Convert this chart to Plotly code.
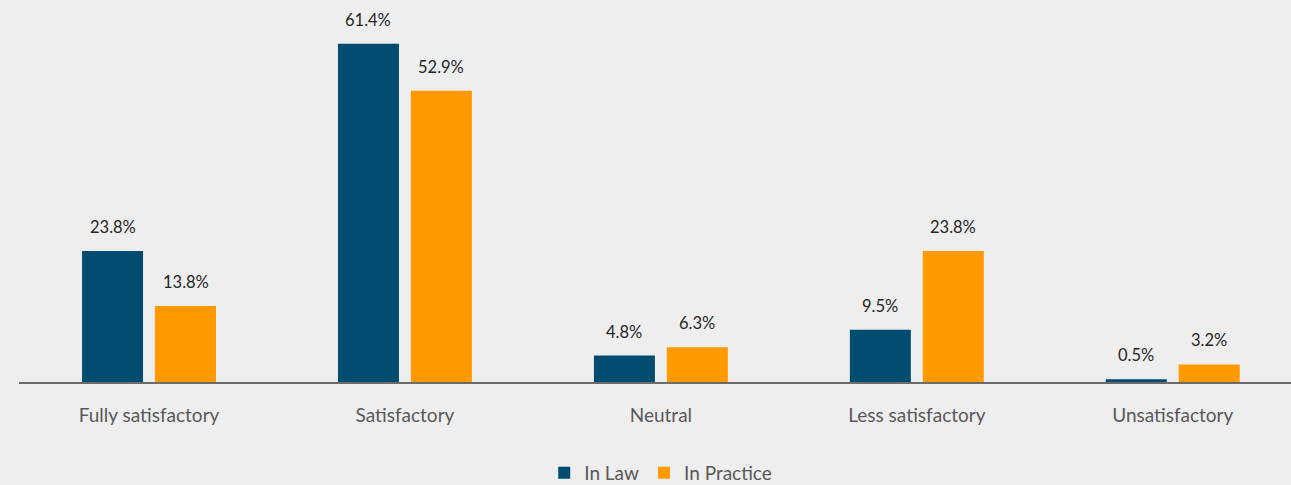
import plotly.graph_objects as go

categories = ["Fully satisfactory", "Satisfactory", "Neutral", "Less satisfactory", "Unsatisfactory"]
in_law = [23.8, 61.4, 4.8, 9.5, 0.5]
in_practice = [13.8, 52.9, 6.3, 23.8, 3.2]

BLUE = "#004d71"
ORANGE = "#ff9900"
FONT = "Lato, 'Open Sans', sans-serif"

fig = go.Figure()
fig.add_trace(go.Bar(name="In Law", x=categories, y=in_law, marker_color=BLUE,
                     marker_line_width=0))
fig.add_trace(go.Bar(name="In Practice", x=categories, y=in_practice, marker_color=ORANGE,
                     marker_line_width=0))

# value labels floating above each bar
annotations = []
for vals, shift in ((in_law, -36.5), (in_practice, 36.5)):
    for c, v in zip(categories, vals):
        annotations.append(dict(x=c, y=v, xref="x", yref="y", text=f"{v:.1f}%",
                                showarrow=False, xshift=shift, yshift=24,
                                font=dict(family=FONT, size=16.5, color="#262626")))

fig.update_layout(
    width=1291, height=485,
    paper_bgcolor="#eeeeee", plot_bgcolor="#eeeeee",
    margin=dict(l=19, r=0, t=24, b=103, autoexpand=False),
    barmode="group", bargap=0.43, bargroupgap=0.164,
    annotations=annotations,
    font=dict(family=FONT, color="#595959"),
    xaxis=dict(range=[-0.508, 4.462], showgrid=False, showline=True, linecolor="#6b6b6b",
               linewidth=1.5, ticks="", tickfont=dict(size=19, color="#595959"),
               ticklabelstandoff=15),
    yaxis=dict(range=[0, 65], visible=False, showgrid=False, zeroline=False),
    legend=dict(orientation="h", x=0.5045, xanchor="center",
                yref="container", y=0.025, yanchor="middle",
                font=dict(size=19, color="#595959"), itemwidth=30,
                traceorder="normal"),
    showlegend=True,
)

fig.write_html("out.html")
